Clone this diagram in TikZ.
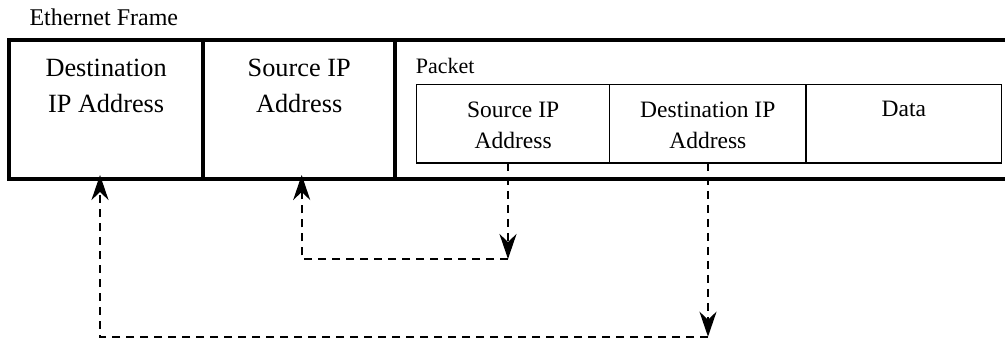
\documentclass[tikz,border=0pt]{standalone}
\usepackage{fontspec}
\setmainfont{Liberation Serif}
\usetikzlibrary{positioning,arrows.meta}

\begin{document}
\begin{tikzpicture}[x=1pt, y=-1pt,
framefield/.style={draw, line width=4pt, minimum height=139.3pt, inner sep=0pt, outer sep=0pt},
pktfield/.style={draw, line width=1.3pt, minimum height=78.7pt, inner sep=0pt, outer sep=0pt},
bigtext/.style={align=center, inner sep=0pt, font=\fontsize{26.3}{36}\selectfont},
smalltext/.style={align=center, inner sep=0pt, font=\fontsize{23.5}{31}\selectfont},
caption/.style={anchor=base west, inner sep=0pt, font=\fontsize{22}{26}\selectfont},
link/.style={line width=2.3pt, dash pattern=on 8pt off 6pt, -{Stealth[length=25pt, width=17pt, inset=8pt]}},
]
\useasboundingbox (0,0) rectangle (1005,339);
\clip (0,0) rectangle (1005,339);

% ethernet frame
\node [caption, font=\fontsize{24}{28}\selectfont] (ethlabel) at (29.3,25.5) {Ethernet Frame};
\node [framefield, anchor=north west, minimum width=193.7pt] (fdst) at (9.3,39.7) {};
\node [framefield, right=0pt of fdst, minimum width=192.3pt] (fsrc) {};
\node [framefield, right=0pt of fsrc, minimum width=640pt] (fpkt) {};
\node [bigtext, below=19pt of fdst.north] (fdsttext) {Destination\\IP Address};
\node [bigtext, below=19pt of fsrc.north] (fsrctext) {Source IP\\Address};

% packet
\node [caption] (pktlabel) at (415.7,73.3) {Packet};
\node [pktfield, anchor=north west, minimum width=192.9pt] (psrc) at (416.7,84.3) {};
\node [pktfield, right=0pt of psrc, minimum width=196.4pt] (pdst) {};
\node [pktfield, right=0pt of pdst, minimum width=195.7pt] (pdata) {};
\node [smalltext, below=17pt of psrc.north] (psrctext) {Source IP\\Address};
\node [smalltext, below=17pt of pdst.north] (pdsttext) {Destination IP\\Address};
\node [smalltext, below=17pt of pdata.north] (pdatatext) {Data};

% copies
\coordinate (bend1) at (508,259);
\coordinate (turn1) at (301.7,259);
\coordinate (bend2) at (708,336.7);
\coordinate (turn2) at (100,336.7);
\draw [link] (psrc.south -| bend1) -- (bend1);
\draw [link, shorten >=-4pt] (bend1) -- (turn1) -- (turn1 |- fsrc.south);
\draw [link] (pdst.south -| bend2) -- (bend2);
\draw [link, shorten >=-4pt] (bend2) -- (turn2) -- (turn2 |- fdst.south);
\end{tikzpicture}
\end{document}
